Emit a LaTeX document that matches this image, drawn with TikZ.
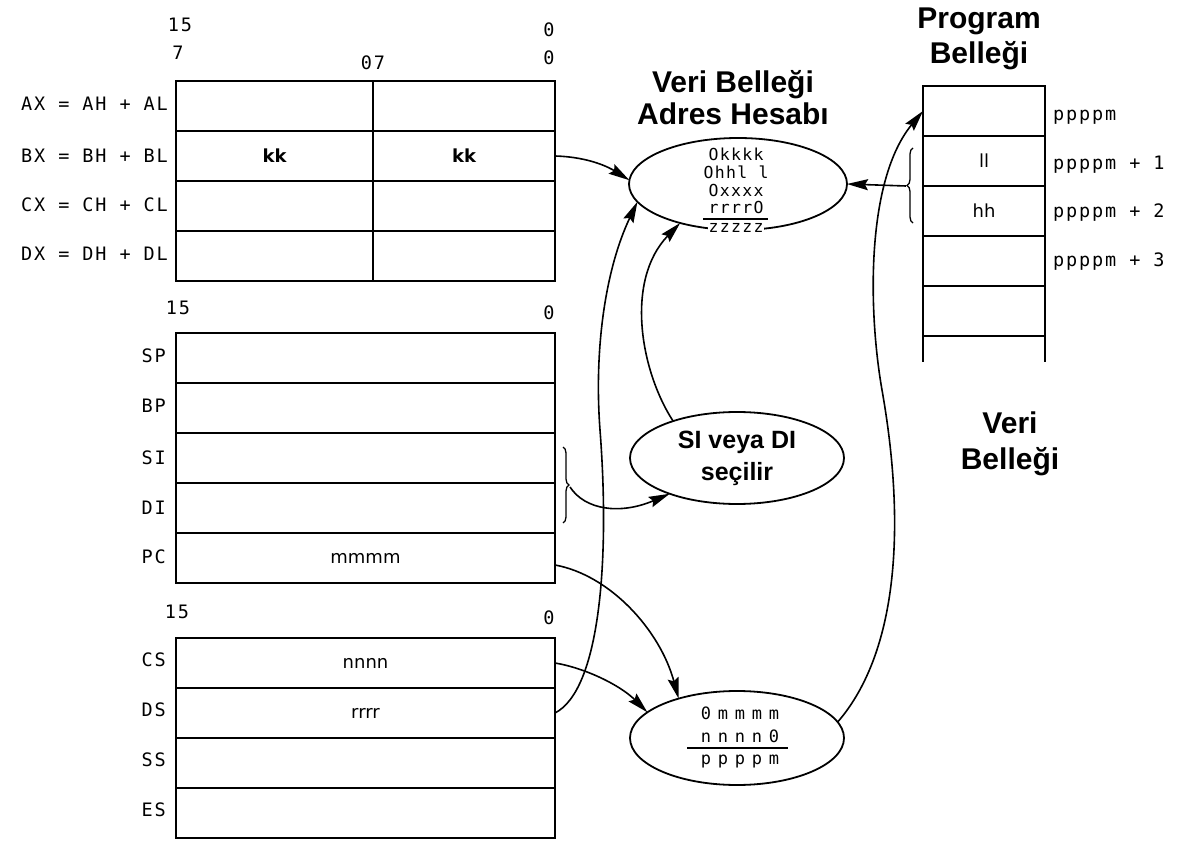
\documentclass[tikz,border=0pt]{standalone}
\usepackage{fontspec}
\setmainfont{Liberation Sans}
\newfontfamily\lblfont[LetterSpace=10]{DejaVu Sans Mono}
\newfontfamily\ellfont[LetterSpace=8]{DejaVu Sans Mono}
\newfontfamily\wideellfont[LetterSpace=40]{DejaVu Sans Mono}
\newfontfamily\cellfont{DejaVu Sans}
\usetikzlibrary{arrows.meta,decorations.pathreplacing,shapes.geometric}
\begin{document}
\begin{tikzpicture}[x=1pt,y=-1pt,
  reg/.style={draw,line width=2pt,minimum height=50pt,inner sep=0pt,outer sep=0pt,font=\cellfont\fontsize{18}{20}\selectfont},
  full/.style={reg,minimum width=379pt},
  half/.style={reg},
  pm/.style={reg,minimum width=122pt},
  lbl/.style={font=\lblfont\fontsize{18.5}{20}\selectfont,inner sep=0pt},
  ell/.style={draw,ellipse,line width=1.8pt,inner sep=0pt,outer sep=0pt},
  etxt/.style={font=\ellfont\fontsize{16.5}{18}\selectfont,inner sep=0.5pt},
  wtxt/.style={font=\wideellfont\fontsize{17}{18}\selectfont,inner sep=0.5pt},
  title/.style={font=\bfseries\fontsize{30}{32}\selectfont,align=center,inner sep=0pt},
  conn/.style={line width=1.6pt,-{Stealth[length=21pt,width=11pt,inset=3pt]}},
  bracestyle/.style={decorate,decoration={brace,amplitude=6pt},line width=1.3pt}
]
\useasboundingbox (0,0) rectangle (1179,842);

% ---- top register block
\node[lbl] (b15a) at (180,25) {15};
\node[lbl] (b0a) at (549,30) {0};
\node[lbl] (b7) at (178,53) {7};
\node[lbl] (b07) at (373,63) {07};
\node[lbl] (b0b) at (549,58) {0};

\node[half,minimum width=197pt] (AH) at (274.5,106) {};
\node[half,minimum width=182pt] (AL) at (464,106) {};
\node[half,minimum width=197pt,font=\cellfont\bfseries\fontsize{18}{20}\selectfont] (BH) at (274.5,156) {kk};
\node[half,minimum width=182pt,font=\cellfont\bfseries\fontsize{18}{20}\selectfont] (BL) at (464,156) {kk};
\node[half,minimum width=197pt] (CH) at (274.5,206) {};
\node[half,minimum width=182pt] (CL) at (464,206) {};
\node[half,minimum width=197pt] (DH) at (274.5,256) {};
\node[half,minimum width=182pt] (DL) at (464,256) {};

\node[lbl,anchor=east] (lAX) at (168,104) {AX = AH + AL};
\node[lbl,anchor=east] (lBX) at (168,156) {BX = BH + BL};
\node[lbl,anchor=east] (lCX) at (168,205) {CX = CH + CL};
\node[lbl,anchor=east] (lDX) at (168,254) {DX = DH + DL};

% ---- pointer registers
\node[lbl] (b15b) at (178,308) {15};
\node[lbl] (b0c) at (549,313) {0};
\node[full] (SP) at (365.5,358) {};
\node[full] (BP) at (365.5,408) {};
\node[full] (SI) at (365.5,458) {};
\node[full] (DI) at (365.5,508) {};
\node[full] (PC) at (365.5,558) {mmmm};
\node[lbl,anchor=east] (lSP) at (166,356) {SP};
\node[lbl,anchor=east] (lBP) at (166,406) {BP};
\node[lbl,anchor=east] (lSI) at (166,458) {SI};
\node[lbl,anchor=east] (lDI) at (166,508) {DI};
\node[lbl,anchor=east] (lPC) at (166,557) {PC};

% ---- segment registers
\node[lbl] (b15c) at (177,612) {15};
\node[lbl] (b0d) at (549,618) {0};
\node[full] (CS) at (365.5,663) {nnnn};
\node[full] (DS) at (365.5,713) {rrrr};
\node[full] (SS) at (365.5,763) {};
\node[full] (ES) at (365.5,813) {};
\node[lbl,anchor=east] (lCS) at (166,660) {CS};
\node[lbl,anchor=east] (lDS) at (166,710) {DS};
\node[lbl,anchor=east] (lSS) at (166,760) {SS};
\node[lbl,anchor=east] (lES) at (166,810) {ES};

% ---- titles
\node[title] (tVA) at (733,98) {Veri Belleği\\Adres Hesabı};
\node[title,font=\bfseries\fontsize{30}{35}\selectfont] (tPB) at (979,39) {Program\\Belleği};
\node[title,font=\bfseries\fontsize{30}{36}\selectfont] (tVB) at (1010,444) {Veri\\Belleği};

% ---- program memory
\node[pm] (P0) at (984,111) {};
\node[pm] (P1) at (984,161) {ll};
\node[pm] (P2) at (984,211) {hh};
\node[pm] (P3) at (984,261) {};
\node[pm] (P4) at (984,311) {};
\draw[line width=2pt] (P4.south west) -- ++(0,26);
\draw[line width=2pt] (P4.south east) -- ++(0,26);
\node[lbl,anchor=west] (a0) at (1053,117) {ppppm};
\node[lbl,anchor=west] (a1) at (1053,165) {ppppm + 1};
\node[lbl,anchor=west] (a2) at (1053,213) {ppppm + 2};
\node[lbl,anchor=west] (a3) at (1053,262) {ppppm + 3};

% ---- ellipses
\node[ell,minimum width=218pt,minimum height=92pt] (E1) at (738,184) {};
\node[etxt] (k1) at (736,154) {Okkkk};
\node[etxt] (k2) at (736,172) {Ohhl l};
\node[etxt] (k3) at (736,190) {Oxxxx};
\node[etxt] (k4) at (736,207) {rrrrO};
\node[etxt,fill=white] (k5) at (736,228) {zzzzz};
\draw[line width=1.3pt] (703,219) -- (768,219);

\node[ell,minimum width=214pt,minimum height=92pt,font=\bfseries\fontsize{25}{32}\selectfont,align=center] (E2) at (737,458) {SI veya DI\\seçilir};

\node[ell,minimum width=214pt,minimum height=94pt] (E3) at (737,738) {};
\node[wtxt] (m1) at (740,713) {0mmmm};
\node[wtxt] (m2) at (740,736) {nnnn0};
\draw[line width=1.3pt] (687,748) -- (788,748);
\node[wtxt] (m3) at (740,762) {ppppm};

% ---- braces
\draw[bracestyle] (563,447) -- (563,523);
\coordinate (bSI) at (570,487);
\draw[bracestyle] (913,223) -- (913,148);
\coordinate (bP) at (906,186);

% ---- connectors
\draw[conn] (BL.east) .. controls (590,157) and (610,168) .. (E1.178);
\draw[conn] (DS.east) .. controls (600,690) and (610,560) .. (600,430) .. controls (594,350) and (605,270) .. (E1.190);
\draw[conn] (E2.150) .. controls (640,370) and (625,280) .. (E1.214);
\draw[conn] (bSI) .. controls (585,510) and (620,515) .. (E2.208);
\draw[conn] ([yshift=-7pt]PC.east) .. controls (610,575) and (660,630) .. (E3.146);
\draw[conn] (CS.east) .. controls (585,668) and (620,685) .. (E3.164);
\draw[conn] (E3.9) .. controls (900,650) and (905,520) .. (882,390) .. controls (868,310) and (866,180) .. (P0.west);
\draw[conn] (bP) -- (E1.east);
\end{tikzpicture}
\end{document}
